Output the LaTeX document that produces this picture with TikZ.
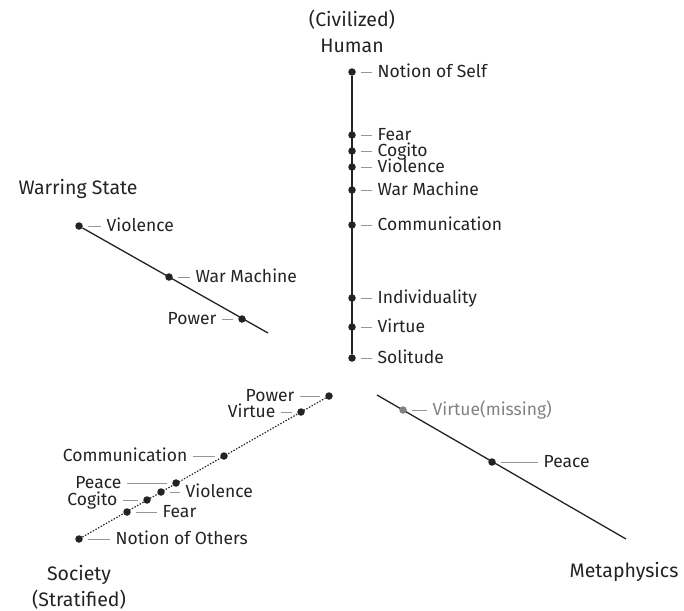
\documentclass[tikz,border=0pt]{standalone}
\usepackage{fontspec}
\setmainfont{Fira Sans}
\usetikzlibrary{positioning}
\definecolor{inkgray}{RGB}{35,35,35}
\definecolor{leadgray}{RGB}{150,150,150}
\definecolor{missgray}{RGB}{130,130,130}
\tikzstyle{bullet} = [circle, fill=inkgray, inner sep=0pt, minimum size=7.5pt]
\tikzstyle{graybullet} = [bullet, fill=missgray]
\tikzstyle{lbl} = [inner sep=3pt, text=inkgray, text height=10.5pt, text depth=0pt, font=\fontsize{17.5}{17.5}\selectfont]
\tikzstyle{graylbl} = [lbl, text=missgray]
\tikzstyle{leader} = [draw=leadgray, line width=1pt, shorten <=5pt, shorten >=2pt]
\tikzstyle{axisline} = [draw=inkgray, line width=1.3pt]
\tikzstyle{dottedline} = [draw=inkgray, line width=1.2pt, dash pattern=on 1.4pt off 1.6pt]
\tikzstyle{heading} = [align=center, text=inkgray, font=\fontsize{19.5}{26}\selectfont]

\begin{document}
\begin{tikzpicture}[x=1pt, y=-1pt]
  \useasboundingbox (0,0) rectangle (684,610);

  % (Civilized) Human
  \node[heading] (human) at (352,31) {(Civilized)\\Human};
  \node[bullet] (h1) at (352,72) {};
  \node[bullet] (h2) at (352,135) {};
  \node[bullet] (h3) at (352,151) {};
  \node[bullet] (h4) at (352,167) {};
  \node[bullet] (h5) at (352,190) {};
  \node[bullet] (h6) at (352,225) {};
  \node[bullet] (h7) at (352,298) {};
  \node[bullet] (h8) at (352,327) {};
  \node[bullet] (h9) at (352,358) {};
  \draw[axisline] (h1) -- (h9);
  \node[lbl, right=18.5pt of h1] (h1l) {Notion of Self};
  \node[lbl, right=18.5pt of h2] (h2l) {Fear};
  \node[lbl, right=18.5pt of h3] (h3l) {Cogito};
  \node[lbl, right=18.5pt of h4] (h4l) {Violence};
  \node[lbl, right=18.5pt of h5] (h5l) {War Machine};
  \node[lbl, right=18.5pt of h6] (h6l) {Communication};
  \node[lbl, right=18.5pt of h7] (h7l) {Individuality};
  \node[lbl, right=18.5pt of h8] (h8l) {Virtue};
  \node[lbl, right=18.5pt of h9] (h9l) {Solitude};
  \draw[leader] (h1) -- (h1l);
  \draw[leader] (h2) -- (h2l);
  \draw[leader] (h3) -- (h3l);
  \draw[leader] (h4) -- (h4l);
  \draw[leader] (h5) -- (h5l);
  \draw[leader] (h6) -- (h6l);
  \draw[leader] (h7) -- (h7l);
  \draw[leader] (h8) -- (h8l);
  \draw[leader] (h9) -- (h9l);

  % Warring State
  \node[heading] (war) at (78,189) {Warring State};
  \node[bullet] (w1) at (79,226) {};
  \node[bullet] (w2) at (169,277) {};
  \node[bullet] (w3) at (242,319) {};
  \coordinate (wend) at (268,333);
  \draw[axisline] (w1) -- (wend);
  \node[lbl, right=20.5pt of w1] (w1l) {Violence};
  \node[lbl, right=19.5pt of w2] (w2l) {War Machine};
  \node[lbl, left=18.5pt of w3] (w3l) {Power};
  \draw[leader] (w1) -- (w1l);
  \draw[leader] (w2) -- (w2l);
  \draw[leader] (w3) -- (w3l);

  % Society (Stratified)
  \node[heading] (soc) at (79,587) {Society\\(Stratified)};
  \node[bullet] (s1) at (329,396) {};
  \node[bullet] (s2) at (301,412) {};
  \node[bullet] (s3) at (224,456) {};
  \node[bullet] (s4) at (176,483) {};
  \node[bullet] (s5) at (161,492) {};
  \node[bullet] (s6) at (147,500) {};
  \node[bullet] (s7) at (127,512) {};
  \node[bullet] (s8) at (79,539) {};
  \draw[dottedline] (s8) -- (s1);
  \node[lbl, left=27.5pt of s1] (s1l) {Power};
  \node[lbl, left=18.5pt of s2] (s2l) {Virtue};
  \node[lbl, left=29.5pt of s3] (s3l) {Communication};
  \node[lbl, left=47.5pt of s4] (s4l) {Peace};
  \node[lbl, right=17.5pt of s5] (s5l) {Violence};
  \node[lbl, left=22.5pt of s6] (s6l) {Cogito};
  \node[lbl, right=28.5pt of s7] (s7l) {Fear};
  \node[lbl, right=29.5pt of s8] (s8l) {Notion of Others};
  \draw[leader] (s1) -- (s1l);
  \draw[leader] (s2) -- (s2l);
  \draw[leader] (s3) -- (s3l);
  \draw[leader] (s4) -- (s4l);
  \draw[leader] (s5) -- (s5l);
  \draw[leader] (s6) -- (s6l);
  \draw[leader] (s7) -- (s7l);
  \draw[leader] (s8) -- (s8l);

  % Metaphysics
  \node[heading] (meta) at (624,572) {Metaphysics};
  \coordinate (mstart) at (377,395);
  \coordinate (mend) at (626,539);
  \draw[axisline] (mstart) -- (mend);
  \node[graybullet] (m1) at (403,410) {};
  \node[bullet] (m2) at (492,462) {};
  \node[graylbl, right=22.5pt of m1] (m1l) {Virtue(missing)};
  \node[lbl, right=44.5pt of m2] (m2l) {Peace};
  \draw[leader] (m1) -- (m1l);
  \draw[leader] (m2) -- (m2l);
\end{tikzpicture}
\end{document}
